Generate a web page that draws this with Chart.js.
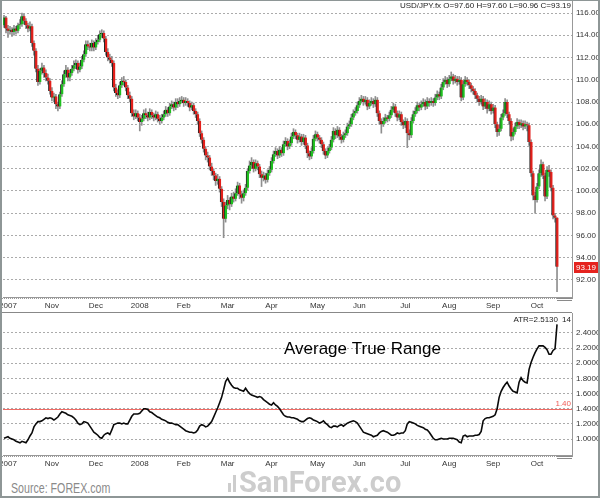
<!DOCTYPE html>
<html>
<head>
<meta charset="utf-8">
<script src="https://cdn.jsdelivr.net/npm/chart.js@4.4.1/dist/chart.umd.min.js"></script>
<style>
  html, body { margin: 0; padding: 0; background: #fff; }
  #page { position: relative; width: 600px; height: 498px; overflow: hidden; background: #fff; }
  #price { position: absolute; left: 0; top: 0; }
  #atr { position: absolute; left: 0; top: 312px; }
  #frame { position: absolute; left: 0; top: 0; width: 600px; height: 498px; box-sizing: border-box;
           border: 2px solid #8e9696; border-top-width: 1px; pointer-events: none; }
  #source { position: absolute; left: 11px; top: 481px; font: 14px "Liberation Sans", sans-serif;
            color: #8a8a8a; line-height: 1; white-space: nowrap; transform: scaleX(0.76); transform-origin: 0 0; }
  #mark { position: absolute; left: 228px; top: 468px; font: bold 29px Roboto, sans-serif; color: #cdcdcd;
          line-height: 1; white-space: nowrap; }
  #mark i { display: inline-block; width: 3px; background: #cdcdcd; margin-right: 2px; vertical-align: baseline; }
</style>
</head>
<body>
<div id="page">
  <canvas id="price" width="600" height="313"></canvas>
  <canvas id="atr" width="600" height="158"></canvas>
  <div id="source">Source: FOREX.com</div>
  <div id="mark"><i style="height:9px"></i><i style="height:17px;margin-right:3px"></i>SanForex.co</div>
  <div id="frame"></div>
</div>
<script>
// ---- data (one bar per trading day, Oct 2007 - 24 Oct 2008)
var opens = [114.9,115.6,114.6,114.4,114.5, 114.3,114.6,114.4,114.9,115.0, 115.7,115.3,114.9,114.6,114.8,
  113.3,112.6,111.0,109.8,110.8, 111.1,110.6,110.2,109.9,109.0, 108.4,108.5,107.8,107.6,108.7,
  109.6,110.5,110.9,110.2,110.6, 111.0,111.3,111.5,110.9,111.2, 111.8,112.3,113.2,113.0,112.9,
  113.3,112.9,113.4,113.6,114.1, 114.2,113.7,112.5,112.0,111.8, 111.5,109.3,108.8,108.6,109.5,
  109.9,109.8,109.3,108.6,108.3, 107.0,106.7,107.0,106.6,106.2, 106.5,107.0,106.8,106.6,107.1,
  106.8,106.6,106.9,106.5,106.3, 106.6,106.9,107.3,107.0,107.6, 107.8,107.5,108.0,107.8,108.1,
  108.2,107.9,108.1,107.9,107.5, 107.7,107.2,106.9,106.3,105.2, 104.6,103.8,103.2,103.0,102.2,
  101.8,101.4,100.9,101.1,100.2, 99.0,97.5,98.7,99.2,98.8, 99.5,99.3,99.8,100.5,99.7,
  99.4,99.8,100.3,101.8,102.3, 102.6,102.0,102.5,102.2,101.5, 101.2,101.4,101.0,101.6,101.9,
  102.7,103.3,103.6,103.2,103.7, 103.4,104.2,104.5,104.0,104.3, 104.9,105.3,105.0,104.6,104.9,
  104.4,104.8,104.1,103.4,103.1, 103.6,104.7,105.1,104.8,104.6, 104.2,103.6,103.2,103.6,103.9,
  104.6,105.4,105.0,105.5,104.9, 104.6,105.0,105.2,105.8,106.0, 106.6,107.0,107.2,107.7,108.1,
  108.3,108.0,108.2,107.6,107.9, 108.1,107.8,108.2,107.0,106.3, 106.0,106.3,106.6,106.5,106.8,
  107.3,107.6,107.0,106.6,106.9, 106.2,105.9,106.3,105.2,105.0, 106.3,106.9,107.2,107.7,107.5,
  107.8,108.0,107.6,108.1,107.9, 108.1,107.9,108.4,108.7,108.5, 109.3,109.8,110.0,109.6,110.1,
  110.3,109.9,110.1,109.8,110.0, 108.4,109.6,110.0,109.8,109.5, 109.2,109.0,108.6,108.3,108.0,
  108.3,107.6,108.0,107.4,107.8, 107.2,107.5,106.0,105.3,105.6, 106.6,107.0,108.0,106.9,106.3,
  104.9,105.3,105.8,106.2,105.9, 106.1,105.8,106.0,105.9,104.4, 101.6,99.6,99.2,100.4,101.6,
  102.4,101.4,99.5,101.9,101.7, 100.3,97.8,97.60];
var highs = [115.8,115.7,114.9,114.8,114.7, 114.9,114.8,115.1,115.4,116.0, 115.9,115.5,115.1,115.2,115.0,
  113.5,112.8,111.3,111.0,111.5, 111.3,110.9,110.5,110.1,109.3, 108.8,108.7,108.0,108.9,109.9,
  110.8,111.3,111.1,110.9,111.3, 111.7,111.8,111.7,111.5,112.1, 112.6,113.5,113.5,113.3,113.6,
  113.5,113.7,114.0,114.4,114.5, 114.4,113.9,112.8,112.3,112.1, 111.7,109.6,109.1,109.8,110.2,
  110.3,110.0,109.5,108.9,108.5, 107.3,107.3,107.2,106.9,106.8, 107.3,107.4,107.1,107.4,107.3,
  107.0,107.2,107.1,106.8,106.9, 107.2,107.6,107.5,107.9,108.1, 108.0,108.3,108.3,108.4,108.5,
  108.4,108.4,108.3,108.1,108.0, 107.9,107.4,107.1,106.5,105.4, 104.8,104.0,103.5,103.2,102.5,
  102.0,101.6,101.5,101.3,100.4, 99.3,99.0,99.6,99.4,99.8, 99.9,100.2,100.8,100.7,100.0,
  100.1,100.6,102.0,102.7,103.0, 102.8,102.8,102.7,102.4,101.8, 101.7,101.6,101.9,102.2,103.0,
  103.6,103.9,103.8,104.0,103.9, 104.5,104.8,104.7,104.6,105.2, 105.6,105.5,105.2,105.2,105.1,
  105.1,105.0,104.3,103.6,103.9, 105.0,105.4,105.3,105.0,104.8, 104.4,103.8,103.9,104.2,104.9,
  105.7,105.6,105.8,105.7,105.1, 105.3,105.5,106.1,106.3,106.9, 107.3,107.5,108.0,108.4,108.6,
  108.5,108.5,108.4,108.2,108.4, 108.3,108.5,108.4,107.2,106.5, 106.6,106.9,106.8,107.1,107.6,
  107.9,107.8,107.2,107.2,107.1, 106.4,106.6,106.5,105.5,106.6, 107.2,107.5,108.0,107.9,108.1,
  108.3,108.2,108.4,108.3,108.4, 108.3,108.7,109.0,108.9,109.6, 110.1,110.3,110.2,110.4,110.7,
  110.5,110.4,110.3,110.3,110.2, 109.9,110.3,110.2,110.0,109.7, 109.4,109.2,108.8,108.5,108.6,
  108.5,108.3,108.2,108.1,108.0, 107.8,107.7,106.2,105.9,106.9, 107.3,108.3,108.2,107.1,106.5,
  105.6,106.1,106.5,106.4,106.4, 106.3,106.3,106.2,106.1,104.6, 101.8,99.9,100.7,101.9,102.8,
  102.6,101.6,102.2,102.3,101.9, 100.5,98.0,97.60];
var lows = [114.7,114.2,113.8,114.1,113.9, 114.0,114.1,114.2,114.6,114.8, 115.0,114.6,114.3,114.4,113.0,
  112.2,110.7,109.5,109.6,110.5, 110.2,109.9,109.6,108.7,108.1, 108.0,107.4,107.2,107.4,108.5,
  109.4,110.2,109.9,109.9,110.4, 110.8,111.0,110.6,110.7,111.0, 111.6,112.1,112.7,112.6,112.6,
  112.6,112.7,113.2,113.4,113.8, 113.4,112.2,111.7,111.5,111.2, 109.0,108.5,108.3,108.4,109.3,
  109.5,109.0,108.3,108.0,106.7, 106.4,106.5,106.3,105.4,105.9, 106.3,106.5,106.3,106.4,106.5,
  106.3,106.4,106.2,106.0,106.1, 106.4,106.7,106.7,106.8,107.4, 107.2,107.3,107.5,107.6,107.9,
  107.6,107.7,107.6,107.2,107.3, 106.9,106.6,106.0,104.9,104.3, 103.5,102.8,102.6,101.9,101.4,
  101.0,100.5,100.6,99.9,98.6, 95.8,97.2,98.4,98.3,98.6, 99.0,99.1,99.6,99.3,98.9,
  99.1,99.6,100.1,101.6,102.0, 101.7,101.8,101.9,101.2,100.4, 100.9,100.7,100.8,101.4,101.7,
  102.5,103.1,102.9,103.0,103.1, 103.2,104.0,103.7,103.8,104.1, 104.7,104.7,104.3,104.4,104.1,
  104.2,103.8,103.0,102.8,102.9, 103.4,104.5,104.5,104.3,103.9, 103.3,102.9,103.0,103.4,103.7,
  104.4,104.7,104.8,104.6,104.3, 104.4,104.8,105.0,105.6,105.8, 106.4,106.8,107.0,107.5,107.9,
  107.7,107.8,107.3,107.4,107.7, 107.5,107.6,106.7,106.0,105.2, 105.8,106.1,106.2,106.3,106.6,
  107.1,106.7,106.3,106.4,105.9, 105.6,105.7,103.9,104.6,104.8, 106.1,106.7,107.0,107.2,107.3,
  107.6,107.3,107.4,107.6,107.7, 107.6,107.7,108.2,108.2,108.3, 109.1,109.6,109.3,109.4,109.9,
  109.6,109.7,109.5,109.6,108.1, 108.2,109.4,109.5,109.2,108.9, 108.7,108.3,108.0,107.7,107.8,
  107.3,107.4,107.0,107.2,106.9, 107.0,105.7,104.9,105.0,105.4, 106.4,106.8,106.6,106.0,104.5,
  104.6,105.1,105.6,105.6,105.7, 105.5,105.6,105.4,104.1,101.3, 99.2,98.0,99.0,100.2,101.3,
  101.1,99.1,99.3,101.3,100.0, 97.5,97.2,90.96];
var closes = [115.6,114.6,114.4,114.5,114.3, 114.6,114.4,114.9,115.0,115.7, 115.3,114.9,114.6,114.8,113.3,
  112.6,111.0,109.8,110.8,111.1, 110.6,110.2,109.9,109.0,108.4, 108.5,107.8,107.6,108.7,109.6,
  110.5,110.9,110.2,110.6,111.0, 111.3,111.5,110.9,111.2,111.8, 112.3,113.2,113.0,112.9,113.3,
  112.9,113.4,113.6,114.1,114.2, 113.7,112.5,112.0,111.8,111.5, 109.3,108.8,108.6,109.5,109.9,
  109.8,109.3,108.6,108.3,107.0, 106.7,107.0,106.6,106.2,106.5, 107.0,106.8,106.6,107.1,106.8,
  106.6,106.9,106.5,106.3,106.6, 106.9,107.3,107.0,107.6,107.8, 107.5,108.0,107.8,108.1,108.2,
  107.9,108.1,107.9,107.5,107.7, 107.2,106.9,106.3,105.2,104.6, 103.8,103.2,103.0,102.2,101.8,
  101.4,100.9,101.1,100.2,99.0, 97.5,98.7,99.2,98.8,99.5, 99.3,99.8,100.5,99.7,99.4,
  99.8,100.3,101.8,102.3,102.6, 102.0,102.5,102.2,101.5,101.2, 101.4,101.0,101.6,101.9,102.7,
  103.3,103.6,103.2,103.7,103.4, 104.2,104.5,104.0,104.3,104.9, 105.3,105.0,104.6,104.9,104.4,
  104.8,104.1,103.4,103.1,103.6, 104.7,105.1,104.8,104.6,104.2, 103.6,103.2,103.6,103.9,104.6,
  105.4,105.0,105.5,104.9,104.6, 105.0,105.2,105.8,106.0,106.6, 107.0,107.2,107.7,108.1,108.3,
  108.0,108.2,107.6,107.9,108.1, 107.8,108.2,107.0,106.3,106.0, 106.3,106.6,106.5,106.8,107.3,
  107.6,107.0,106.6,106.9,106.2, 105.9,106.3,105.2,105.0,106.3, 106.9,107.2,107.7,107.5,107.8,
  108.0,107.6,108.1,107.9,108.1, 107.9,108.4,108.7,108.5,109.3, 109.8,110.0,109.6,110.1,110.3,
  109.9,110.1,109.8,110.0,108.4, 109.6,110.0,109.8,109.5,109.2, 109.0,108.6,108.3,108.0,108.3,
  107.6,108.0,107.4,107.8,107.2, 107.5,106.0,105.3,105.6,106.6, 107.0,108.0,106.9,106.3,104.9,
  105.3,105.8,106.2,105.9,106.1, 105.8,106.0,105.9,104.4,101.6, 99.6,99.2,100.4,101.6,102.4,
  101.4,99.5,101.9,101.7,100.3, 97.8,97.6,93.19];
var atr = [1.01,1.02,1.03,1.01,1.00, 0.99,0.97,0.96,0.95,0.97, 0.96,0.95,0.99,1.04,1.08,
  1.16,1.20,1.23,1.23,1.24, 1.26,1.28,1.27,1.28,1.27, 1.25,1.27,1.29,1.33,1.36,
  1.35,1.34,1.32,1.31,1.30, 1.28,1.25,1.21,1.19,1.20, 1.23,1.22,1.21,1.17,1.13,
  1.09,1.07,1.05,1.02,1.01, 1.05,1.07,1.08,1.06,1.12, 1.19,1.20,1.21,1.21,1.20,
  1.21,1.20,1.20,1.25,1.30, 1.33,1.33,1.33,1.34,1.37, 1.40,1.40,1.39,1.36,1.35,
  1.33,1.31,1.29,1.28,1.26, 1.25,1.24,1.22,1.21,1.21, 1.20,1.19,1.19,1.17,1.15,
  1.13,1.11,1.10,1.09,1.09, 1.08,1.09,1.12,1.17,1.19, 1.18,1.16,1.17,1.20,1.23,
  1.29,1.35,1.41,1.48,1.55, 1.65,1.76,1.80,1.75,1.71, 1.68,1.67,1.67,1.65,1.64,
  1.63,1.67,1.63,1.60,1.58, 1.57,1.56,1.55,1.56,1.55, 1.52,1.50,1.48,1.46,1.45,
  1.48,1.45,1.43,1.40,1.36, 1.32,1.30,1.29,1.29,1.28, 1.28,1.27,1.26,1.24,1.23,
  1.23,1.25,1.27,1.28,1.27, 1.25,1.24,1.23,1.21,1.22, 1.24,1.21,1.19,1.16,1.15,
  1.17,1.17,1.16,1.18,1.19, 1.17,1.19,1.21,1.22,1.23, 1.24,1.23,1.21,1.17,1.13,
  1.09,1.08,1.07,1.06,1.05, 1.03,1.04,1.05,1.08,1.10, 1.11,1.10,1.09,1.07,1.05,
  1.05,1.06,1.08,1.07,1.08, 1.08,1.11,1.20,1.23,1.22, 1.21,1.20,1.18,1.17,1.16,
  1.15,1.13,1.12,1.09,1.05, 1.01,0.99,0.99,1.00,1.01, 1.00,1.00,1.00,1.01,1.01,
  1.01,1.00,0.99,0.96,0.95, 1.04,1.05,1.03,1.04,1.04, 1.04,1.05,1.05,1.06,1.10,
  1.24,1.27,1.28,1.28,1.29, 1.30,1.32,1.40,1.55,1.63, 1.68,1.72,1.75,1.70,1.66,
  1.63,1.62,1.61,1.75,1.81, 1.77,1.75,1.74,1.92,2.01, 2.08,2.14,2.19,2.23,2.23,
  2.23,2.21,2.18,2.12,2.12, 2.17,2.19,2.513];

var slotCount = 285;           // bar slots on the time axis (last 7 are empty space)
var monthLabels = ['2007','Nov','Dec','2008','Feb','Mar','Apr','May','Jun','Jul','Aug','Sep','Oct'];
var monthSlots = [2, 24, 46, 68, 90, 112, 134, 157, 178, 201, 223, 245, 267];
var priceTicks = [92, 94, 96, 98, 100, 102, 104, 106, 108, 110, 112, 114, 116];
var atrTicks = [1.0, 1.2, 1.4, 1.6, 1.8, 2.0, 2.2, 2.4];
var atrLevel = 1.40;
var atrPeriod = 14;

var slots = [];
for (var s = 0; s < slotCount; s++) slots.push(s);
var last = closes.length - 1;
var FONT = 'Liberation Sans';

function monthText(i) {
  var k = monthSlots.indexOf(i);
  return k >= 0 ? monthLabels[k] : '';
}

function timeAxis(h) {
  return {
    type: 'category', offset: true,
    grid: { drawOnChartArea: false, tickLength: 3, tickColor: '#9a9a9a', tickBorderDash: [1, 1], offset: true },
    border: { display: true, color: '#999' },
    ticks: { autoSkip: false, maxRotation: 0, minRotation: 0, padding: 1, color: '#333',
             font: { family: FONT, size: 8 }, callback: function(v, i){ return monthText(i); } },
    afterFit: function(sc){ sc.height = h; sc.paddingLeft = 0; sc.paddingRight = 0; }
  };
}

function valueAxis(min, max, list, dec) {
  return {
    position: 'right', min: min, max: max,
    afterBuildTicks: function(sc){ sc.ticks = list.map(function(v){ return { value: v }; }); },
    grid: { color: '#ababab', drawTicks: false },
    border: { display: true, color: '#999', dash: [2, 2] },
    ticks: { padding: 4, color: '#333', font: { family: FONT, size: 8 },
             callback: function(v){ return Number(v).toFixed(dec); } },
    afterFit: function(sc){ sc.width = 28; sc.paddingTop = 0; sc.paddingBottom = 0; }
  };
}

function stripMarks(chart) {
  var ctx = chart.ctx, a = chart.chartArea;
  ctx.save();
  ctx.strokeStyle = '#8a8a8a'; ctx.lineWidth = 1;
  ctx.beginPath();
  ctx.moveTo(a.right - 15, a.bottom + 1.5); ctx.lineTo(a.right, a.bottom + 1.5);
  ctx.moveTo(a.right - 15, a.bottom + 3.5); ctx.lineTo(a.right, a.bottom + 3.5);
  ctx.stroke();
  ctx.restore();
}

// price panel
new Chart(document.getElementById('price'), {
  type: 'bar',
  data: {
    labels: slots,
    datasets: [{
      label: 'body',
      data: opens.map(function(o, i){ return [o, closes[i]]; }),
      backgroundColor: function(c){ return closes[c.dataIndex] >= opens[c.dataIndex] ? '#1fc01f' : '#e3201b'; },
      borderColor: '#262626',
      borderWidth: { left: 1, right: 0, top: 0, bottom: 0 },
      borderSkipped: false,
      barThickness: 3, minBarLength: 1, grouped: false
    }, {
      label: 'wick',
      data: lows.map(function(l, i){ return [l, highs[i]]; }),
      backgroundColor: '#8e8e8e',
      barThickness: 1, grouped: false
    }]
  },
  options: {
    responsive: false, animation: false, events: [],
    layout: { padding: { left: 3, top: 1, right: 0, bottom: 0 } },
    plugins: { legend: { display: false }, tooltip: { enabled: false } },
    scales: { x: timeAxis(16), y: valueAxis(90.47, 117.08, priceTicks, 2) }
  },
  plugins: [{
    id: 'priceText',
    afterDraw: function(chart) {
      var ctx = chart.ctx, a = chart.chartArea, y = chart.scales.y;
      ctx.save();
      ctx.font = '8px "' + FONT + '"';
      ctx.textBaseline = 'middle';
      ctx.textAlign = 'right';
      ctx.fillStyle = '#222';
      ctx.fillText('USD/JPY.fx O=' + opens[last].toFixed(2) + ' H=' + highs[last].toFixed(2) +
                   ' L=' + lows[last].toFixed(2) + ' C=' + closes[last].toFixed(2), a.right - 1, 6);
      var py = Math.round(y.getPixelForValue(closes[last]));
      ctx.fillStyle = '#e5231e';
      ctx.fillRect(a.right + 2, py - 5, 30, 11);
      ctx.fillStyle = '#fff';
      ctx.textAlign = 'left';
      ctx.fillText(closes[last].toFixed(2), a.right + 4, py + 0.5);
      ctx.restore();
      stripMarks(chart);
    }
  }]
});

// ATR panel
new Chart(document.getElementById('atr'), {
  type: 'line',
  data: {
    labels: slots,
    datasets: [{ label: 'ATR', data: atr, borderColor: '#0a0a0a', borderWidth: 1.6,
                 pointRadius: 0, tension: 0, fill: false }]
  },
  options: {
    responsive: false, animation: false, events: [],
    layout: { padding: { left: 3, top: 1, right: 0, bottom: 0 } },
    plugins: { legend: { display: false }, tooltip: { enabled: false } },
    scales: { x: timeAxis(15), y: valueAxis(0.789, 2.664, atrTicks, 4) }
  },
  plugins: [{
    id: 'atrText',
    beforeDatasetsDraw: function(chart) {
      var ctx = chart.ctx, a = chart.chartArea, y = chart.scales.y;
      var ly = Math.round(y.getPixelForValue(atrLevel)) + 0.5;
      ctx.save();
      ctx.setLineDash([]);
      ctx.strokeStyle = '#ef6a64';
      ctx.lineWidth = 1;
      ctx.beginPath(); ctx.moveTo(a.left, ly); ctx.lineTo(a.right, ly); ctx.stroke();
      ctx.font = '8px "' + FONT + '"';
      ctx.fillStyle = '#f05a54'; ctx.textAlign = 'right'; ctx.textBaseline = 'middle';
      ctx.fillText(atrLevel.toFixed(2), a.right - 1, ly - 6);
      ctx.restore();
    },
    afterDraw: function(chart) {
      var ctx = chart.ctx, a = chart.chartArea;
      ctx.save();
      ctx.strokeStyle = '#888'; ctx.lineWidth = 1;
      ctx.beginPath(); ctx.moveTo(0, 0.5); ctx.lineTo(a.right, 0.5); ctx.stroke();
      ctx.font = '8px "' + FONT + '"';
      ctx.fillStyle = '#222'; ctx.textAlign = 'right'; ctx.textBaseline = 'middle';
      ctx.fillText(String(atrPeriod), a.right - 1, a.top + 7);
      ctx.fillText('ATR=' + atr[last].toFixed(4), a.right - 14, a.top + 7);
      ctx.font = '17px "' + FONT + '"';
      ctx.fillStyle = '#000'; ctx.textAlign = 'left'; ctx.textBaseline = 'alphabetic';
      ctx.fillText('Average True Range', 284, 42);
      ctx.restore();
      stripMarks(chart);
    }
  }]
});
</script>
</body>
</html>
